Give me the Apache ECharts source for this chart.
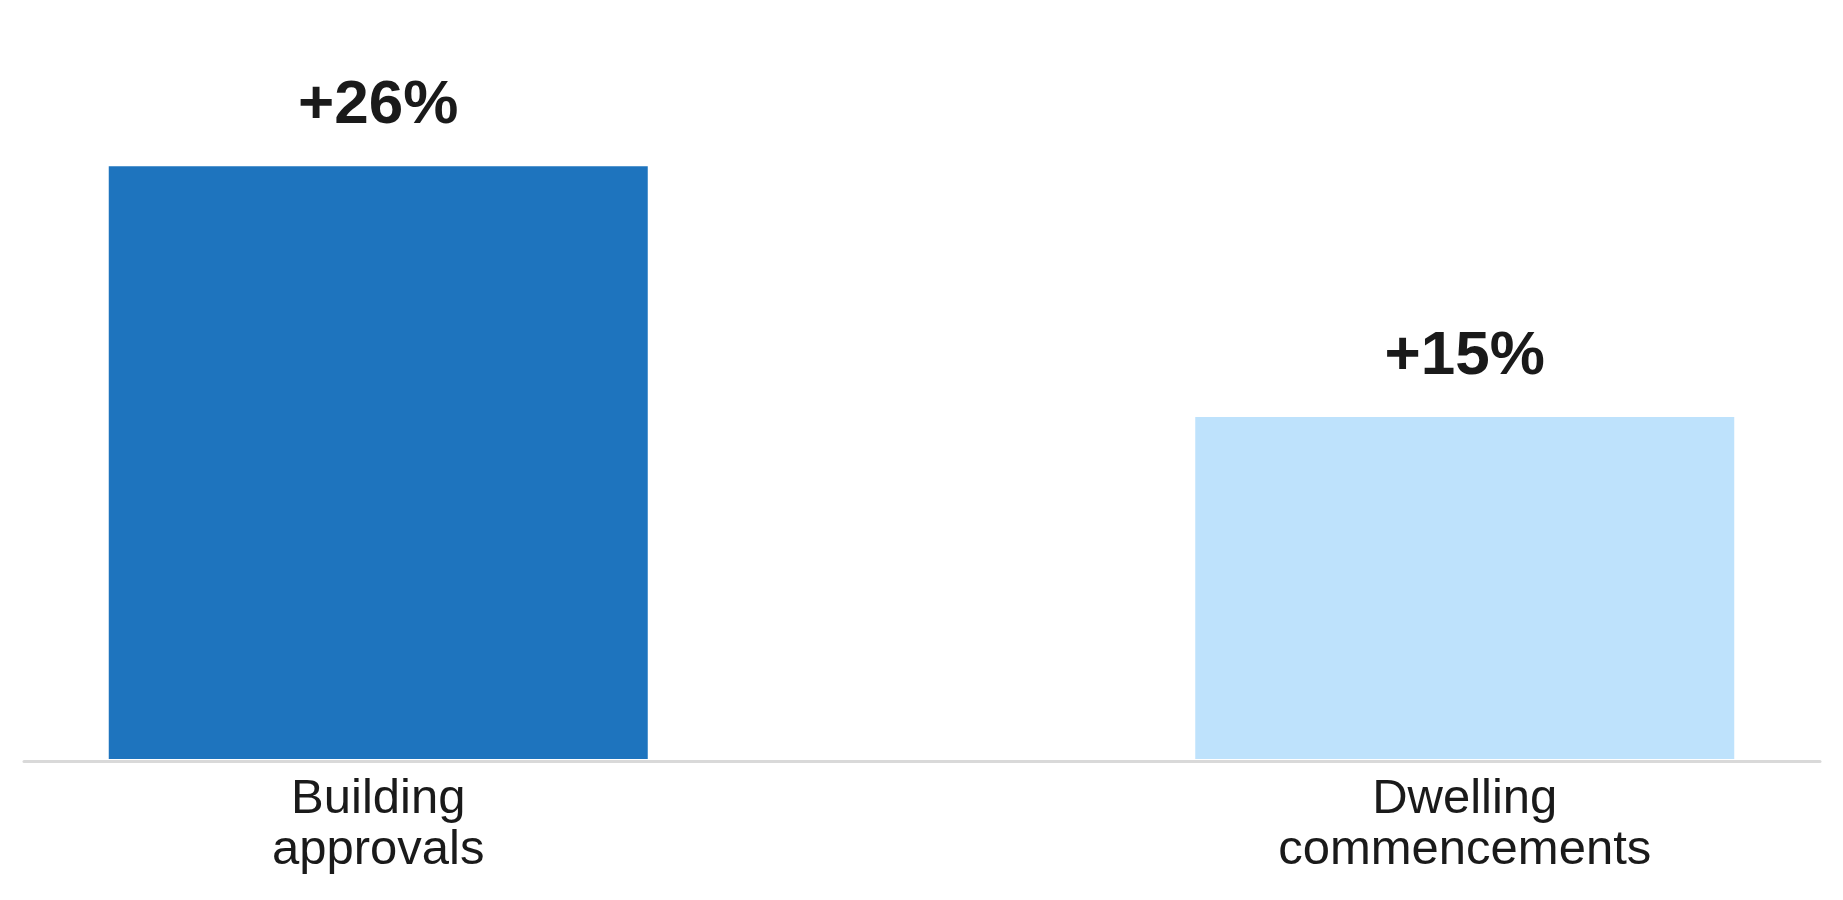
<!DOCTYPE html>
<html style="height: 100%">
  <head>
    <meta charset="utf-8" />
  </head>
  <body style="height: 100%; margin: 0; background: #ffffff">
    <div id="container" style="width: 1843px; height: 900px"></div>

    <script
      type="text/javascript"
      src="https://cdn.jsdelivr.net/npm/echarts@6/dist/echarts.min.js"
    ></script>

    <script type="text/javascript">
      // change in activity, per cent
      var categories = ["Building\napprovals", "Dwelling\ncommencements"];
      var values = [26, 15];
      var valueLabels = ["+26%", "+15%"];
      var barColors = ["#1e74be", "#bee2fc"];

      var textColor = "#1a1a1a";
      var fontFamily = "'Liberation Sans', Arial, sans-serif";

      var dom = document.getElementById("container");
      var myChart = echarts.init(dom, null, { renderer: "canvas" });

      var option = {
        backgroundColor: "#ffffff",
        animation: false,
        grid: [
          // bars: bands are wider than the page so the bars sit where the original put them
          {
            left: -165,
            right: -165,
            top: 75,
            bottom: 141,
            outerBoundsMode: "none",
          },
          // baseline rule only
          {
            left: 24,
            right: 23,
            top: 75,
            bottom: 138.5,
            outerBoundsMode: "none",
          },
        ],
        xAxis: [
          {
            type: "category",
            gridIndex: 0,
            data: categories,
            axisLine: { show: false },
            axisTick: { show: false },
            axisLabel: {
              interval: 0,
              margin: 15,
              fontSize: 49,
              lineHeight: 51,
              color: textColor,
              fontFamily: fontFamily,
            },
          },
          {
            type: "value",
            gridIndex: 1,
            min: 0,
            max: 1,
            axisLine: {
              show: true,
              lineStyle: { color: "#d9d9d9", width: 3 },
            },
            axisTick: { show: false },
            axisLabel: { show: false },
            splitLine: { show: false },
          },
        ],
        yAxis: [
          { type: "value", gridIndex: 0, min: 0, max: 30, show: false },
          { type: "value", gridIndex: 1, min: 0, max: 1, show: false },
        ],
        series: [
          {
            type: "bar",
            xAxisIndex: 0,
            yAxisIndex: 0,
            barWidth: 539,
            data: values.map(function (v, i) {
              return { value: v, itemStyle: { color: barColors[i] } };
            }),
            label: {
              show: true,
              position: "top",
              distance: 29,
              fontSize: 62,
              fontWeight: "bold",
              color: textColor,
              fontFamily: fontFamily,
              formatter: function (p) {
                return valueLabels[p.dataIndex];
              },
            },
          },
        ],
      };

      myChart.setOption(option);
    </script>
  </body>
</html>
